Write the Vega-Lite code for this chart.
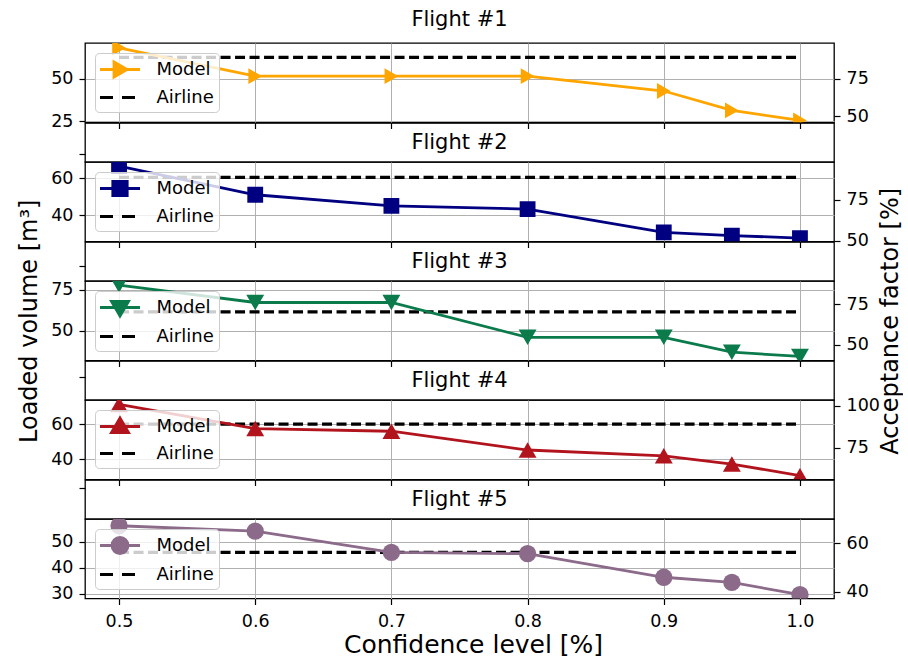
{
  "$schema": "https://vega.github.io/schema/vega-lite/v6.json",
  "padding": {"left": 17, "top": 0, "right": 0, "bottom": 0},
  "spacing": 0,
  "bounds": "flush",
  "datasets": {
    "rows": [
      {"flight": 1, "series": "Model", "conf": 0.5, "volume": 68.3, "af": 95.3},
      {"flight": 1, "series": "Model", "conf": 0.6, "volume": 51.6, "af": 76.5},
      {"flight": 1, "series": "Model", "conf": 0.7, "volume": 51.6, "af": 76.5},
      {"flight": 1, "series": "Model", "conf": 0.8, "volume": 51.6, "af": 76.5},
      {"flight": 1, "series": "Model", "conf": 0.9, "volume": 42.9, "af": 66.8},
      {"flight": 1, "series": "Model", "conf": 0.95, "volume": 31.5, "af": 54.0},
      {"flight": 1, "series": "Model", "conf": 1.0, "volume": 25.6, "af": 47.3},
      {"flight": 1, "series": "Airline", "conf": 0.5, "volume": 62.6, "af": 88.9},
      {"flight": 1, "series": "Airline", "conf": 1.0, "volume": 62.6, "af": 88.9},
      {"flight": 2, "series": "Model", "conf": 0.5, "volume": 66.5, "af": 95.7},
      {"flight": 2, "series": "Model", "conf": 0.6, "volume": 51.1, "af": 78.3},
      {"flight": 2, "series": "Model", "conf": 0.7, "volume": 45.1, "af": 71.5},
      {"flight": 2, "series": "Model", "conf": 0.8, "volume": 43.4, "af": 69.6},
      {"flight": 2, "series": "Model", "conf": 0.9, "volume": 30.9, "af": 55.3},
      {"flight": 2, "series": "Model", "conf": 0.95, "volume": 29.2, "af": 53.5},
      {"flight": 2, "series": "Model", "conf": 1.0, "volume": 27.8, "af": 51.9},
      {"flight": 2, "series": "Airline", "conf": 0.5, "volume": 60.4, "af": 88.8},
      {"flight": 2, "series": "Airline", "conf": 1.0, "volume": 60.4, "af": 88.8},
      {"flight": 3, "series": "Model", "conf": 0.5, "volume": 78.0, "af": 86.8},
      {"flight": 3, "series": "Model", "conf": 0.6, "volume": 67.3, "af": 76.0},
      {"flight": 3, "series": "Model", "conf": 0.7, "volume": 67.3, "af": 76.0},
      {"flight": 3, "series": "Model", "conf": 0.8, "volume": 45.9, "af": 54.5},
      {"flight": 3, "series": "Model", "conf": 0.9, "volume": 45.9, "af": 54.5},
      {"flight": 3, "series": "Model", "conf": 0.95, "volume": 36.8, "af": 45.3},
      {"flight": 3, "series": "Model", "conf": 1.0, "volume": 34.2, "af": 42.7},
      {"flight": 3, "series": "Airline", "conf": 0.5, "volume": 61.6, "af": 70.3},
      {"flight": 3, "series": "Airline", "conf": 1.0, "volume": 61.6, "af": 70.3},
      {"flight": 4, "series": "Model", "conf": 0.5, "volume": 71.2, "af": 100.7},
      {"flight": 4, "series": "Model", "conf": 0.6, "volume": 57.4, "af": 86.4},
      {"flight": 4, "series": "Model", "conf": 0.7, "volume": 55.9, "af": 84.8},
      {"flight": 4, "series": "Model", "conf": 0.8, "volume": 45.2, "af": 73.7},
      {"flight": 4, "series": "Model", "conf": 0.9, "volume": 41.9, "af": 70.1},
      {"flight": 4, "series": "Model", "conf": 0.95, "volume": 37.2, "af": 65.3},
      {"flight": 4, "series": "Model", "conf": 1.0, "volume": 30.6, "af": 58.4},
      {"flight": 4, "series": "Airline", "conf": 0.5, "volume": 60.0, "af": 89.1},
      {"flight": 4, "series": "Airline", "conf": 1.0, "volume": 60.0, "af": 89.1},
      {"flight": 5, "series": "Model", "conf": 0.5, "volume": 56.2, "af": 67.3},
      {"flight": 5, "series": "Model", "conf": 0.6, "volume": 54.1, "af": 65.1},
      {"flight": 5, "series": "Model", "conf": 0.7, "volume": 45.9, "af": 56.3},
      {"flight": 5, "series": "Model", "conf": 0.8, "volume": 45.4, "af": 55.7},
      {"flight": 5, "series": "Model", "conf": 0.9, "volume": 36.3, "af": 46.1},
      {"flight": 5, "series": "Model", "conf": 0.95, "volume": 34.3, "af": 43.9},
      {"flight": 5, "series": "Model", "conf": 1.0, "volume": 29.6, "af": 38.9},
      {"flight": 5, "series": "Airline", "conf": 0.5, "volume": 45.9, "af": 56.3},
      {"flight": 5, "series": "Airline", "conf": 1.0, "volume": 45.9, "af": 56.3}
    ]
  },
  "vconcat": [
    {
      "width": 749, "height": 43,
      "view": {"stroke": null},
      "data": {"values": [{"name": "Flight #1"}]},
      "mark": {"type": "text", "fontSize": 21, "font": "DejaVu Sans", "color": "black", "baseline": "middle", "align": "center"},
      "encoding": {
        "text": {"field": "name"},
        "x": {"datum": 0.75, "type": "quantitative", "scale": {"domain": [0.475, 1.025]}, "axis": null},
        "y": {"datum": 0.535, "type": "quantitative", "scale": {"domain": [0, 1]}, "axis": null}
      }
    },
    {
      "width": 749, "height": 79.5,
      "data": {"name": "rows"},
      "transform": [{"filter": "datum.flight === 1"}],
      "encoding": {
        "x": {"field": "conf", "type": "quantitative", "scale": {"domain": [0.475, 1.025]}, "axis": {"values": [0.5, 0.6, 0.7, 0.8, 0.9, 1.0], "labels": false, "title": null, "grid": true}}
      },
      "layer": [
        {
          "encoding": {
            "y": {"field": "volume", "type": "quantitative", "scale": {"domain": [24.4, 71.1]}, "axis": {"orient": "left", "values": [25, 50], "grid": true, "title": null}},
            "color": {"field": "series", "type": "nominal", "scale": {"domain": ["Model", "Airline"], "range": ["#ffa500", "black"]},
              "legend": {"title": null, "orient": "top-left", "offset": 10, "fillColor": "rgba(255,255,255,0.8)", "strokeColor": "#cccccc", "cornerRadius": 4, "padding": 5, "labelFontSize": 18, "labelFont": "DejaVu Sans", "labelColor": "black", "symbolSize": 400, "symbolStrokeWidth": 2.8, "symbolOffset": 8.5, "labelOffset": 25, "rowPadding": 3, "symbolOpacity": 1,
                "encode": {"symbols": {"update": {
                  "shape": {"signal": "datum.value === 'Model' ? 'M-2,0H2M-0.6,-0.75L0.7,0L-0.6,0.75Z' : 'M-2,0H2'"},
                  "fill": {"signal": "datum.value === 'Model' ? '#ffa500' : 'transparent'"},
                  "strokeDash": {"signal": "datum.value === 'Model' ? [] : [13, 9]"}
                }}}}}
          },
          "layer": [
            {"transform": [{"filter": "datum.series === 'Airline'"}], "mark": {"type": "line", "strokeDash": [10, 4.5], "strokeWidth": 3.2, "clip": true}},
            {"transform": [{"filter": "datum.series === 'Model'"}], "mark": {"type": "line", "strokeWidth": 2.8, "clip": true}},
            {"transform": [{"filter": "datum.series === 'Model'"}], "mark": {"type": "point", "shape": "triangle-right", "filled": true, "size": 250, "opacity": 1, "clip": true}, "encoding": {"color": {"value": "#ffa500"}}}
          ]
        },
        {
          "transform": [{"filter": "datum.series === 'Model'"}],
          "mark": {"type": "line", "opacity": 0},
          "encoding": {"y": {"field": "af", "type": "quantitative", "scale": {"domain": [46.0, 98.4]}, "axis": {"orient": "right", "values": [50, 75], "grid": false, "title": null}}}
        }
      ],
      "resolve": {"scale": {"y": "independent"}, "axis": {"y": "independent"}}
    },
    {
      "width": 749, "height": 39,
      "data": {"values": [{"name": "Flight #2"}]},
      "mark": {"type": "text", "fontSize": 21, "font": "DejaVu Sans", "color": "black", "baseline": "middle", "align": "center"},
      "encoding": {
        "text": {"field": "name"},
        "x": {"datum": 0.75, "type": "quantitative", "scale": {"domain": [0.475, 1.025]}, "axis": null},
        "y": {"datum": 0.8213, "type": "quantitative", "scale": {"domain": [0.7861, 0.8565]}, "axis": {"orient": "left", "values": [0.8], "labels": false, "grid": false, "title": null}}
      }
    },
    {
      "width": 749, "height": 79.5,
      "data": {"name": "rows"},
      "transform": [{"filter": "datum.flight === 2"}],
      "encoding": {
        "x": {"field": "conf", "type": "quantitative", "scale": {"domain": [0.475, 1.025]}, "axis": {"values": [0.5, 0.6, 0.7, 0.8, 0.9, 1.0], "labels": false, "title": null, "grid": true}}
      },
      "layer": [
        {
          "encoding": {
            "y": {"field": "volume", "type": "quantitative", "scale": {"domain": [26.0, 68.7]}, "axis": {"orient": "left", "values": [40, 60], "grid": true, "title": null}},
            "color": {"field": "series", "type": "nominal", "scale": {"domain": ["Model", "Airline"], "range": ["#000080", "black"]},
              "legend": {"title": null, "orient": "top-left", "offset": 10, "fillColor": "rgba(255,255,255,0.8)", "strokeColor": "#cccccc", "cornerRadius": 4, "padding": 5, "labelFontSize": 18, "labelFont": "DejaVu Sans", "labelColor": "black", "symbolSize": 400, "symbolStrokeWidth": 2.8, "symbolOffset": 8.5, "labelOffset": 25, "rowPadding": 3, "symbolOpacity": 1,
                "encode": {"symbols": {"update": {
                  "shape": {"signal": "datum.value === 'Model' ? 'M-2,0H2M-0.72,-0.72H0.72V0.72H-0.72Z' : 'M-2,0H2'"},
                  "fill": {"signal": "datum.value === 'Model' ? '#000080' : 'transparent'"},
                  "strokeDash": {"signal": "datum.value === 'Model' ? [] : [13, 9]"}
                }}}}}
          },
          "layer": [
            {"transform": [{"filter": "datum.series === 'Airline'"}], "mark": {"type": "line", "strokeDash": [10, 4.5], "strokeWidth": 3.2, "clip": true}},
            {"transform": [{"filter": "datum.series === 'Model'"}], "mark": {"type": "line", "strokeWidth": 2.8, "clip": true}},
            {"transform": [{"filter": "datum.series === 'Model'"}], "mark": {"type": "point", "shape": "square", "filled": true, "size": 250, "opacity": 1, "clip": true}, "encoding": {"color": {"value": "#000080"}}}
          ]
        },
        {
          "transform": [{"filter": "datum.series === 'Model'"}],
          "mark": {"type": "line", "opacity": 0},
          "encoding": {"y": {"field": "af", "type": "quantitative", "scale": {"domain": [49.6, 98.1]}, "axis": {"orient": "right", "values": [50, 75], "grid": false, "title": null}}}
        }
      ],
      "resolve": {"scale": {"y": "independent"}, "axis": {"y": "independent"}}
    },
    {
      "width": 749, "height": 39,
      "data": {"values": [{"name": "Flight #3"}]},
      "mark": {"type": "text", "fontSize": 21, "font": "DejaVu Sans", "color": "black", "baseline": "middle", "align": "center"},
      "encoding": {
        "text": {"field": "name"},
        "x": {"datum": 0.75, "type": "quantitative", "scale": {"domain": [0.475, 1.025]}, "axis": null},
        "y": {"datum": 0.6074, "type": "quantitative", "scale": {"domain": [0.5722, 0.6426]}, "axis": {"orient": "left", "values": [0.6], "labels": false, "grid": false, "title": null}}
      }
    },
    {
      "width": 749, "height": 79.5,
      "data": {"name": "rows"},
      "transform": [{"filter": "datum.flight === 3"}],
      "encoding": {
        "x": {"field": "conf", "type": "quantitative", "scale": {"domain": [0.475, 1.025]}, "axis": {"values": [0.5, 0.6, 0.7, 0.8, 0.9, 1.0], "labels": false, "title": null, "grid": true}}
      },
      "layer": [
        {
          "encoding": {
            "y": {"field": "volume", "type": "quantitative", "scale": {"domain": [31.7, 80.5]}, "axis": {"orient": "left", "values": [50, 75], "grid": true, "title": "Loaded volume [m³]", "titleFontSize": 24, "titlePadding": 9}},
            "color": {"field": "series", "type": "nominal", "scale": {"domain": ["Model", "Airline"], "range": ["#0b7b4c", "black"]},
              "legend": {"title": null, "orient": "top-left", "offset": 10, "fillColor": "rgba(255,255,255,0.8)", "strokeColor": "#cccccc", "cornerRadius": 4, "padding": 5, "labelFontSize": 18, "labelFont": "DejaVu Sans", "labelColor": "black", "symbolSize": 400, "symbolStrokeWidth": 2.8, "symbolOffset": 8.5, "labelOffset": 25, "rowPadding": 3, "symbolOpacity": 1,
                "encode": {"symbols": {"update": {
                  "shape": {"signal": "datum.value === 'Model' ? 'M-2,0H2M-0.85,-0.6H0.85L0,0.85Z' : 'M-2,0H2'"},
                  "fill": {"signal": "datum.value === 'Model' ? '#0b7b4c' : 'transparent'"},
                  "strokeDash": {"signal": "datum.value === 'Model' ? [] : [13, 9]"}
                }}}}}
          },
          "layer": [
            {"transform": [{"filter": "datum.series === 'Airline'"}], "mark": {"type": "line", "strokeDash": [10, 4.5], "strokeWidth": 3.2, "clip": true}},
            {"transform": [{"filter": "datum.series === 'Model'"}], "mark": {"type": "line", "strokeWidth": 2.8, "clip": true}},
            {"transform": [{"filter": "datum.series === 'Model'"}], "mark": {"type": "point", "shape": "triangle-down", "filled": true, "size": 320, "opacity": 1, "clip": true}, "encoding": {"color": {"value": "#0b7b4c"}}}
          ]
        },
        {
          "transform": [{"filter": "datum.series === 'Model'"}],
          "mark": {"type": "line", "opacity": 0},
          "encoding": {"y": {"field": "af", "type": "quantitative", "scale": {"domain": [40.2, 89.3]}, "axis": {"orient": "right", "values": [50, 75], "grid": false, "title": "Acceptance factor [%]", "titleFontSize": 24, "titleAngle": 270, "titleBaseline": "top", "titlePadding": 10}}}
        }
      ],
      "resolve": {"scale": {"y": "independent"}, "axis": {"y": "independent"}}
    },
    {
      "width": 749, "height": 39,
      "data": {"values": [{"name": "Flight #4"}]},
      "mark": {"type": "text", "fontSize": 21, "font": "DejaVu Sans", "color": "black", "baseline": "middle", "align": "center"},
      "encoding": {
        "text": {"field": "name"},
        "x": {"datum": 0.75, "type": "quantitative", "scale": {"domain": [0.475, 1.025]}, "axis": null},
        "y": {"datum": 0.3935, "type": "quantitative", "scale": {"domain": [0.3583, 0.4287]}, "axis": {"orient": "left", "values": [0.4], "labels": false, "grid": false, "title": null}}
      }
    },
    {
      "width": 749, "height": 79.5,
      "data": {"name": "rows"},
      "transform": [{"filter": "datum.flight === 4"}],
      "encoding": {
        "x": {"field": "conf", "type": "quantitative", "scale": {"domain": [0.475, 1.025]}, "axis": {"values": [0.5, 0.6, 0.7, 0.8, 0.9, 1.0], "labels": false, "title": null, "grid": true}}
      },
      "layer": [
        {
          "encoding": {
            "y": {"field": "volume", "type": "quantitative", "scale": {"domain": [28.4, 73.7]}, "axis": {"orient": "left", "values": [40, 60], "grid": true, "title": null}},
            "color": {"field": "series", "type": "nominal", "scale": {"domain": ["Model", "Airline"], "range": ["#b2141d", "black"]},
              "legend": {"title": null, "orient": "top-left", "offset": 10, "fillColor": "rgba(255,255,255,0.8)", "strokeColor": "#cccccc", "cornerRadius": 4, "padding": 5, "labelFontSize": 18, "labelFont": "DejaVu Sans", "labelColor": "black", "symbolSize": 400, "symbolStrokeWidth": 2.8, "symbolOffset": 8.5, "labelOffset": 25, "rowPadding": 3, "symbolOpacity": 1,
                "encode": {"symbols": {"update": {
                  "shape": {"signal": "datum.value === 'Model' ? 'M-2,0H2M-0.85,0.6H0.85L0,-0.85Z' : 'M-2,0H2'"},
                  "fill": {"signal": "datum.value === 'Model' ? '#b2141d' : 'transparent'"},
                  "strokeDash": {"signal": "datum.value === 'Model' ? [] : [13, 9]"}
                }}}}}
          },
          "layer": [
            {"transform": [{"filter": "datum.series === 'Airline'"}], "mark": {"type": "line", "strokeDash": [10, 4.5], "strokeWidth": 3.2, "clip": true}},
            {"transform": [{"filter": "datum.series === 'Model'"}], "mark": {"type": "line", "strokeWidth": 2.8, "clip": true}},
            {"transform": [{"filter": "datum.series === 'Model'"}], "mark": {"type": "point", "shape": "triangle-up", "filled": true, "size": 320, "opacity": 1, "clip": true}, "encoding": {"color": {"value": "#b2141d"}}}
          ]
        },
        {
          "transform": [{"filter": "datum.series === 'Model'"}],
          "mark": {"type": "line", "opacity": 0},
          "encoding": {"y": {"field": "af", "type": "quantitative", "scale": {"domain": [56.1, 103.3]}, "axis": {"orient": "right", "values": [75, 100], "grid": false, "title": null}}}
        }
      ],
      "resolve": {"scale": {"y": "independent"}, "axis": {"y": "independent"}}
    },
    {
      "width": 749, "height": 39,
      "data": {"values": [{"name": "Flight #5"}]},
      "mark": {"type": "text", "fontSize": 21, "font": "DejaVu Sans", "color": "black", "baseline": "middle", "align": "center"},
      "encoding": {
        "text": {"field": "name"},
        "x": {"datum": 0.75, "type": "quantitative", "scale": {"domain": [0.475, 1.025]}, "axis": null},
        "y": {"datum": 0.1796, "type": "quantitative", "scale": {"domain": [0.1444, 0.2148]}, "axis": {"orient": "left", "values": [0.2], "labels": false, "grid": false, "title": null}}
      }
    },
    {
      "width": 749, "height": 79.5,
      "data": {"name": "rows"},
      "transform": [{"filter": "datum.flight === 5"}],
      "encoding": {
        "x": {"field": "conf", "type": "quantitative", "scale": {"domain": [0.475, 1.025]}, "axis": {"values": [0.5, 0.6, 0.7, 0.8, 0.9, 1.0], "format": ".1f", "title": "Confidence level [%]", "titleX": 388, "titlePadding": 2, "labelPadding": 8, "grid": true}}
      },
      "layer": [
        {
          "encoding": {
            "y": {"field": "volume", "type": "quantitative", "scale": {"domain": [28.1, 58.8]}, "axis": {"orient": "left", "values": [30, 40, 50], "grid": true, "title": null}},
            "color": {"field": "series", "type": "nominal", "scale": {"domain": ["Model", "Airline"], "range": ["#8c6a8a", "black"]},
              "legend": {"title": null, "orient": "top-left", "offset": 10, "fillColor": "rgba(255,255,255,0.8)", "strokeColor": "#cccccc", "cornerRadius": 4, "padding": 5, "labelFontSize": 18, "labelFont": "DejaVu Sans", "labelColor": "black", "symbolSize": 400, "symbolStrokeWidth": 2.8, "symbolOffset": 8.5, "labelOffset": 25, "rowPadding": 3, "symbolOpacity": 1,
                "encode": {"symbols": {"update": {
                  "shape": {"signal": "datum.value === 'Model' ? 'M-2,0H2M-0.8,0A0.8,0.8,0,1,0,0.8,0A0.8,0.8,0,1,0,-0.8,0Z' : 'M-2,0H2'"},
                  "fill": {"signal": "datum.value === 'Model' ? '#8c6a8a' : 'transparent'"},
                  "strokeDash": {"signal": "datum.value === 'Model' ? [] : [13, 9]"}
                }}}}}
          },
          "layer": [
            {"transform": [{"filter": "datum.series === 'Airline'"}], "mark": {"type": "line", "strokeDash": [10, 4.5], "strokeWidth": 3.2, "clip": true}},
            {"transform": [{"filter": "datum.series === 'Model'"}], "mark": {"type": "line", "strokeWidth": 2.8, "clip": true}},
            {"transform": [{"filter": "datum.series === 'Model'"}], "mark": {"type": "point", "shape": "circle", "filled": true, "size": 300, "opacity": 1, "clip": true}, "encoding": {"color": {"value": "#8c6a8a"}}}
          ]
        },
        {
          "transform": [{"filter": "datum.series === 'Model'"}],
          "mark": {"type": "line", "opacity": 0},
          "encoding": {"y": {"field": "af", "type": "quantitative", "scale": {"domain": [37.3, 70.1]}, "axis": {"orient": "right", "values": [40, 60], "grid": false, "title": null}}}
        }
      ],
      "resolve": {"scale": {"y": "independent"}, "axis": {"y": "independent"}}
    }
  ],
  "resolve": {"scale": {"x": "independent", "y": "independent", "color": "independent"}, "legend": {"color": "independent"}},
  "config": {
    "font": "DejaVu Sans",
    "view": {"stroke": "black", "strokeWidth": 1.3},
    "axis": {"labelFont": "DejaVu Sans", "labelFontSize": 17.5, "labelColor": "black", "tickColor": "black", "tickSize": 6, "tickWidth": 1.2, "domain": false, "gridColor": "#b0b0b0", "gridWidth": 1, "gridOpacity": 1, "titleFont": "DejaVu Sans", "titleFontSize": 25, "titleFontWeight": "normal", "titleColor": "black", "labelPadding": 6}
  }
}
